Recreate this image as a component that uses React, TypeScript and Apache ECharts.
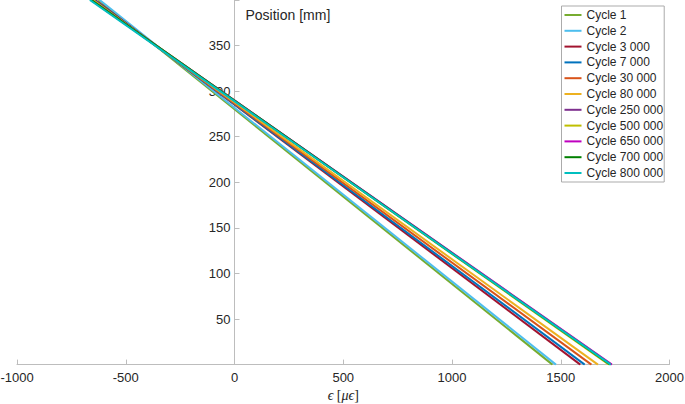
import React, { useEffect, useRef } from "react";
import * as echarts from "echarts";

const cycles = [
  "Cycle 1",
  "Cycle 2",
  "Cycle 3 000",
  "Cycle 7 000",
  "Cycle 30 000",
  "Cycle 80 000",
  "Cycle 250 000",
  "Cycle 500 000",
  "Cycle 650 000",
  "Cycle 700 000",
  "Cycle 800 000",
];
// strain (µε) at position 0 mm
const strainAtBottom = [1462, 1478, 1590, 1610, 1641, 1671, 1733, 1722, 1735, 1728, 1730];
// strain (µε) at position 400 mm
const strainAtTop = [-625, -620, -640, -645, -650, -652, -660, -657, -660, -658, -665];
const positions = [0, 400];
const xTicks = [-1000, -500, 0, 500, 1000, 1500, 2000];
const yTicks = [50, 100, 150, 200, 250, 300, 350];
const palette = [
  "#77AC30",
  "#4DBEEE",
  "#A2142F",
  "#0072BD",
  "#D95319",
  "#EDB120",
  "#7E2F8E",
  "#BFBF00",
  "#BF00BF",
  "#008000",
  "#00BFBF",
];

const AXIS_GRAY = "#BDBDBD";
const TEXT = "#262626";

const W = 685;
const H = 404;
const GRID_LEFT = 17;
const GRID_RIGHT = 15.5;
const X_MIN = -1000;
const X_MAX = 2000;

export default function App() {
  const ref = useRef<HTMLDivElement>(null);
  useEffect(() => {
    if (!ref.current) return;
    const chart = echarts.init(ref.current, undefined, { renderer: "svg" });
    const gridWidth = W - GRID_LEFT - GRID_RIGHT;
    const zeroOffset = (gridWidth * (0 - X_MIN)) / (X_MAX - X_MIN);
    const series = cycles.map((name, k) => ({
      name,
      type: "line",
      symbol: "none",
      data: positions.map((p, i) => [i === 0 ? strainAtBottom[k] : strainAtTop[k], p]),
      lineStyle: { width: 2, color: palette[k] },
      itemStyle: { color: palette[k] },
    }));
    chart.setOption({
      animation: false,
      textStyle: { fontFamily: "Liberation Sans, Arial, sans-serif" },
      grid: {
        left: GRID_LEFT,
        right: GRID_RIGHT,
        top: 0,
        bottom: 39.4,
        containLabel: false,
        outerBoundsMode: "none",
      },
      legend: {
        orient: "vertical",
        left: 561.5,
        top: 6,
        padding: [2, 1, 2, 3],
        itemGap: 1.8,
        itemWidth: 17,
        itemHeight: 2,
        icon: "rect",
        borderColor: "#ABABAB",
        borderWidth: 1,
        backgroundColor: "#ffffff",
        textStyle: { fontSize: 12, color: TEXT, lineHeight: 14, fontFamily: "Liberation Sans, Arial, sans-serif" },
        data: cycles,
      },
      xAxis: {
        type: "value",
        min: X_MIN,
        max: X_MAX,
        interval: 500,
        name: "{i|ϵ} [{i|μϵ}]",
        nameLocation: "middle",
        nameGap: 24,
        nameTextStyle: {
          fontFamily: "Liberation Serif, serif",
          fontSize: 14,
          color: TEXT,
          rich: {
            i: { fontStyle: "italic", fontFamily: "Liberation Serif, serif", fontSize: 14, color: TEXT },
          },
        },
        axisLine: { show: true, onZero: false, lineStyle: { color: AXIS_GRAY, width: 1 } },
        axisTick: { show: true, inside: true, length: 5, lineStyle: { color: AXIS_GRAY } },
        axisLabel: {
          fontSize: 13,
          color: TEXT,
          margin: 6,
          formatter: (v: number) => (xTicks.includes(v) ? String(v) : ""),
        },
        splitLine: { show: false },
      },
      yAxis: {
        type: "value",
        min: 0,
        max: 400,
        interval: 50,
        position: "left",
        offset: -zeroOffset,
        name: "Position [mm]",
        nameLocation: "end",
        nameGap: -15,
        nameTextStyle: {
          fontSize: 14,
          color: TEXT,
          align: "left",
          verticalAlign: "middle",
          padding: [0, 0, 0, 11],
        },
        axisLine: { show: true, onZero: false, lineStyle: { color: AXIS_GRAY, width: 1 } },
        axisTick: { show: true, inside: true, length: 5, lineStyle: { color: AXIS_GRAY } },
        axisLabel: {
          fontSize: 13,
          color: TEXT,
          margin: 4,
          formatter: (v: number) => (yTicks.includes(v) ? String(v) : ""),
        },
        splitLine: { show: false },
      },
      series,
    });
    return () => chart.dispose();
  }, []);
  return (
    <div
      ref={ref}
      style={{ position: "fixed", left: 0, top: 0, width: W, height: H, background: "#fff" }}
    />
  );
}
